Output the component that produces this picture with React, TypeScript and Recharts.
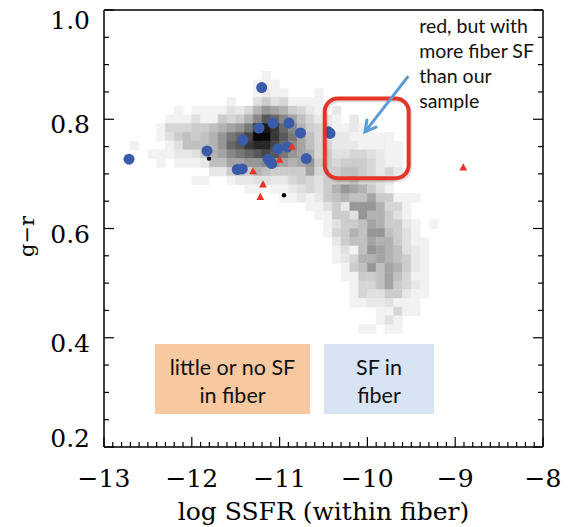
import React from "react";
import { ScatterChart, Scatter, XAxis, YAxis, ReferenceArea, ReferenceLine } from "recharts";

// axis ticks
const xMajor = [-13, -12, -11, -10, -9, -8];
const yMajor = [0.2, 0.4, 0.6, 0.8, 1.0];
const xTicks = Array.from({ length: 51 }, (_, i) => Math.round((-13 + i * 0.1) * 10) / 10);
const yTicks = Array.from({ length: 17 }, (_, i) => Math.round((0.2 + i * 0.05) * 100) / 100);

// 2d histogram of the parent sample, bins 0.1 in log SSFR (from -13) and 0.016 in g-r (from 0.2)
// each row: [row index, first column, cell shades], '.' = empty, '1' lightest ... 'i' darkest
const grayLevels = [242, 232, 224, 214, 204, 192, 178, 164, 150, 136, 120, 104, 88, 72, 56, 40, 24, 8];
const shadeKeys = "123456789abcdefghi";
const histRows: [number, number, string][] = [
  [42, 18, "1"],
  [41, 17, "111"],
  [40, 17, "1211...1"],
  [39, 14, "1..35341111"],
  [38, 8, "1.111132479875421.2"],
  [37, 7, "1113115457adca864221.2"],
  [36, 6, "1444556789bfhfca75431121"],
  [35, 6, "13565679bceiifdb86432211111"],
  [34, 3, "1...1366679cdfggeca864422211111"],
  [33, 5, "111223578abcdedb9874533443211"],
  [32, 6, "1.1112668899a987895545554211"],
  [31, 12, "2256576555584556654242"],
  [30, 10, "11..1223322454355564432"],
  [29, 16, "11.11234357987531"],
  [28, 20, "1121256766855111"],
  [27, 23, "113529997441"],
  [26, 24, "11553977531"],
  [25, 25, "13556875521.1"],
  [24, 25, "14576996531"],
  [23, 26, "25668775311"],
  [22, 26, "13169876321"],
  [21, 26, "12477876521"],
  [20, 27, "1569687521"],
  [19, 27, "1155686411"],
  [18, 28, "144685421"],
  [17, 28, "143355211"],
  [16, 28, "11223111"],
  [15, 31, "11411"],
  [14, 31, "131"],
  [13, 29, "11.11"],
];

// our galaxies
const blueGals = [
  { x: -12.715, y: 0.727 }, { x: -11.204, y: 0.858 }, { x: -11.235, y: 0.784 },
  { x: -11.075, y: 0.793 }, { x: -10.893, y: 0.793 }, { x: -10.762, y: 0.775 },
  { x: -11.417, y: 0.762 }, { x: -11.827, y: 0.742 }, { x: -11.018, y: 0.746 },
  { x: -10.912, y: 0.749 }, { x: -11.129, y: 0.727 }, { x: -11.109, y: 0.723 },
  { x: -11.09, y: 0.719 }, { x: -10.696, y: 0.728 }, { x: -11.482, y: 0.708 },
  { x: -11.425, y: 0.709 }, { x: -10.445, y: 0.777 }, { x: -10.426, y: 0.774 },
];
const redGals = [
  { x: -10.859, y: 0.749 }, { x: -11.0, y: 0.725 }, { x: -11.303, y: 0.704 },
  { x: -11.189, y: 0.68 }, { x: -11.22, y: 0.657 }, { x: -8.908, y: 0.711 },
];
const blackGals = [{ x: -11.804, y: 0.728 }, { x: -10.95, y: 0.661 }];

const noteLines = ["red, but with", "more fiber SF", "than our", "sample"];
const lowSfLines = ["little or no SF", "in fiber"];
const sfLines = ["SF in", "fiber"];

const SERIF = "DejaVu Serif";
const SANS = "Lato";

const cells = histRows.flatMap(([r, c0, s]) =>
  s.split("").flatMap((ch, i) =>
    ch === "." ? [] : [{ r, c: c0 + i, g: grayLevels[shadeKeys.indexOf(ch)] }]
  )
);

const fmtX = (v: number) => (v < 0 ? `\u2212${Math.abs(v)}` : `${v}`);

const BottomTick = (p: any) => {
  const { x, y, payload } = p;
  const major = xMajor.includes(payload.value);
  return (
    <g>
      <line x1={x} y1={y} x2={x} y2={y - (major ? 10 : 5)} stroke="#000" strokeWidth={1.2} />
      {major && (
        <text x={x} y={y + 40} textAnchor="middle" fontFamily={SERIF} fontSize={25} fill="#000">
          {fmtX(payload.value)}
        </text>
      )}
    </g>
  );
};

const TopTick = (p: any) => {
  const { x, y, payload } = p;
  const major = xMajor.includes(payload.value);
  return <line x1={x} y1={y} x2={x} y2={y + (major ? 10 : 5)} stroke="#000" strokeWidth={1.2} />;
};

const LeftTick = (p: any) => {
  const { x, y, payload } = p;
  const v = payload.value;
  const major = yMajor.includes(v);
  // labels sit a little below their tick, the end ones kept inside the frame
  const shift = v === 1 ? 18.5 : v === 0.2 ? -0.5 : 14;
  return (
    <g>
      <line x1={x} y1={y} x2={x + (major ? 10 : 5)} y2={y} stroke="#000" strokeWidth={1.2} />
      {major && (
        <text x={x - 14} y={y + shift} textAnchor="end" fontFamily={SERIF} fontSize={25} fill="#000">
          {v.toFixed(1)}
        </text>
      )}
    </g>
  );
};

const RightTick = (p: any) => {
  const { x, y, payload } = p;
  const major = yMajor.includes(payload.value);
  return <line x1={x} y1={y} x2={x - (major ? 10 : 5)} y2={y} stroke="#000" strokeWidth={1.2} />;
};

const Arrow = (p: any) => {
  const { x1, y1, x2, y2 } = p;
  const ang = Math.atan2(y2 - y1, x2 - x1);
  const L = 12;
  const a = 0.5;
  const h1 = [x2 - L * Math.cos(ang - a), y2 - L * Math.sin(ang - a)];
  const h2 = [x2 - L * Math.cos(ang + a), y2 - L * Math.sin(ang + a)];
  return (
    <g>
      <line x1={x1} y1={y1} x2={x2} y2={y2} stroke="#5B9BD5" strokeWidth={3} />
      <polyline
        points={`${h1[0]},${h1[1]} ${x2},${y2} ${h2[0]},${h2[1]}`}
        fill="none"
        stroke="#5B9BD5"
        strokeWidth={3}
        strokeLinecap="round"
      />
    </g>
  );
};

const boxText = (lines: string[], fill: string) => (p: any) => (
  <g>
    <rect x={p.x} y={p.y} width={p.width} height={p.height} fill={fill} />
    {lines.map((t, i) => (
      <text
        key={t}
        x={p.x + p.width / 2}
        y={p.y + p.height / 2 + (i === 0 ? -12 : 16)}
        textAnchor="middle"
        dominantBaseline="central"
        fontFamily={SANS}
        fontSize={21.5}
        fill="#111"
      >
        {t}
      </text>
    ))}
  </g>
);

const NoteText = (p: any) => (
  <g>
    {noteLines.map((t, i) => (
      <text key={t} x={p.x} y={p.y + 7 + i * 25} dominantBaseline="central" fontFamily={SANS} fontSize={19.5} fill="#111">
        {t}
      </text>
    ))}
  </g>
);

const RoundBox = (p: any) => (
  <g>
    <rect x={p.x + 1.5} y={p.y + 2} width={p.width} height={p.height} rx={13} fill="none" stroke="rgba(0,0,0,0.12)" strokeWidth={4} />
    <rect x={p.x} y={p.y} width={p.width} height={p.height} rx={13} fill="none" stroke="#E5352B" strokeWidth={4} />
  </g>
);

export default function App() {
  const axisLine = { stroke: "#000", strokeWidth: 1.5 };
  return (
    <div style={{ position: "absolute", left: 0, top: 0, background: "#fff" }}>
      <ScatterChart width={571} height={527} margin={{ top: 9, right: 27, bottom: 79, left: 103 }}>
        <XAxis
          xAxisId="b"
          type="number"
          dataKey="x"
          domain={[-13, -8]}
          allowDataOverflow
          ticks={xTicks}
          interval={0}
          height={1}
          tickLine={false}
          tickSize={0}
          tickMargin={0}
          axisLine={axisLine}
          tick={(p: any) => <BottomTick {...p} />}
          label={{ value: "log SSFR (within fiber)", position: "bottom", offset: 54, fontFamily: SERIF, fontSize: 25, fill: "#000" }}
        />
        <XAxis
          xAxisId="t"
          orientation="top"
          type="number"
          domain={[-13, -8]}
          allowDataOverflow
          ticks={xTicks}
          interval={0}
          height={1}
          tickLine={false}
          tickSize={0}
          tickMargin={0}
          axisLine={axisLine}
          tick={(p: any) => <TopTick {...p} />}
        />
        <YAxis
          yAxisId="l"
          type="number"
          dataKey="y"
          domain={[0.2, 1.0]}
          allowDataOverflow
          ticks={yTicks}
          interval={0}
          width={1}
          tickLine={false}
          tickSize={0}
          tickMargin={0}
          axisLine={axisLine}
          tick={(p: any) => <LeftTick {...p} />}
          label={{
            value: "g\u2212r",
            content: ({ viewBox }: any) => {
              const cx = viewBox.x - 76;
              const cy = viewBox.y + viewBox.height / 2 + 8;
              return (
                <text x={cx} y={cy} transform={`rotate(-90 ${cx} ${cy})`} textAnchor="middle" dominantBaseline="central" fontFamily={SERIF} fontSize={21} fill="#000">
                  g{"\u2212"}r
                </text>
              );
            },
          }}
        />
        <YAxis
          yAxisId="r"
          orientation="right"
          type="number"
          domain={[0.2, 1.0]}
          allowDataOverflow
          ticks={yTicks}
          interval={0}
          width={1}
          tickLine={false}
          tickSize={0}
          tickMargin={0}
          axisLine={axisLine}
          tick={(p: any) => <RightTick {...p} />}
        />

        {cells.map((cl) => {
          const col = `rgb(${cl.g},${cl.g},${cl.g})`;
          return (
            <ReferenceArea
              key={`${cl.r}-${cl.c}`}
              xAxisId="b"
              yAxisId="l"
              x1={-13 + cl.c * 0.1}
              x2={-13 + (cl.c + 1) * 0.1}
              y1={0.2 + cl.r * 0.016}
              y2={0.2 + (cl.r + 1) * 0.016}
              fill={col}
              fillOpacity={1}
              stroke={col}
              strokeWidth={0.6}
              ifOverflow="visible"
            />
          );
        })}

        <ReferenceArea xAxisId="b" yAxisId="l" x1={-12.419} x2={-10.654} y1={0.2604} y2={0.3886} ifOverflow="visible" shape={boxText(lowSfLines, "#F8C8A0")} />
        <ReferenceArea xAxisId="b" yAxisId="l" x1={-10.494} x2={-9.241} y1={0.2604} y2={0.3886} ifOverflow="visible" shape={boxText(sfLines, "#D8E4F3")} />

        <Scatter xAxisId="b" yAxisId="l" data={blueGals} isAnimationActive={false}
          shape={(p: any) => <circle cx={p.cx} cy={p.cy} r={5.5} fill="#3A5BA9" />} />
        <Scatter xAxisId="b" yAxisId="l" data={redGals} isAnimationActive={false}
          shape={(p: any) => (
            <polygon points={`${p.cx},${p.cy - 4.5} ${p.cx - 3.9},${p.cy + 2.6} ${p.cx + 3.9},${p.cy + 2.6}`} fill="#EC3323" />
          )} />
        <Scatter xAxisId="b" yAxisId="l" data={blackGals} isAnimationActive={false}
          shape={(p: any) => <circle cx={p.cx} cy={p.cy} r={2.2} fill="#000" />} />

        <ReferenceArea xAxisId="b" yAxisId="l" x1={-10.486} x2={-9.53} y1={0.692} y2={0.838} ifOverflow="visible" zIndex={700} shape={(p: any) => <RoundBox {...p} />} />
        <ReferenceLine xAxisId="b" yAxisId="l" segment={[{ x: -9.534, y: 0.879 }, { x: -10.027, y: 0.777 }]} ifOverflow="visible" zIndex={700} shape={(p: any) => <Arrow {...p} />} />
        <ReferenceArea xAxisId="b" yAxisId="l" x1={-9.41} x2={-8.1} y1={0.8} y2={0.985} ifOverflow="visible" zIndex={700} shape={(p: any) => <NoteText {...p} />} />
      </ScatterChart>
    </div>
  );
}
